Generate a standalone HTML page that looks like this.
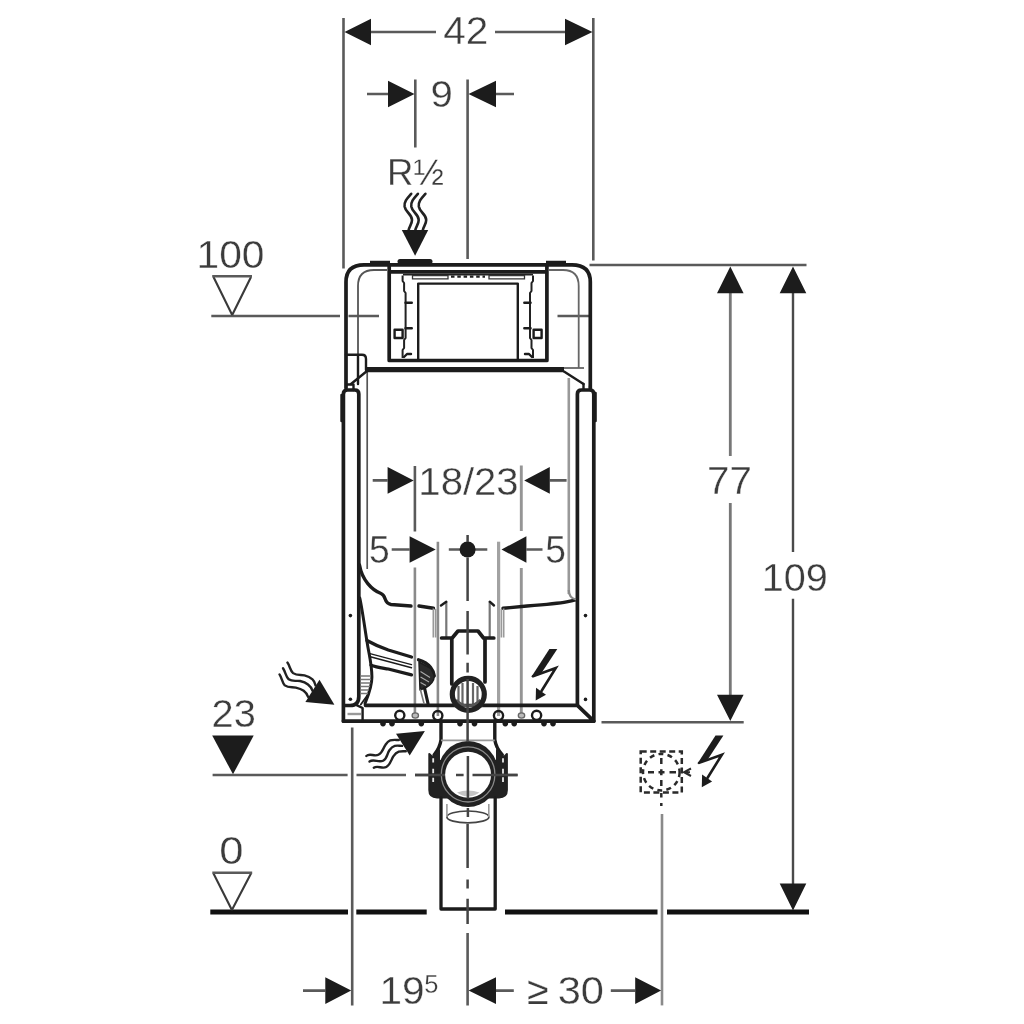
<!DOCTYPE html>
<html><head><meta charset="utf-8"><title>Dimension drawing</title>
<style>
html,body{margin:0;padding:0;background:#fff;}
body{width:1024px;height:1024px;overflow:hidden;}
svg{display:block;filter:blur(0.75px);}
text{font-family:"Liberation Sans",sans-serif;fill:#3c3c3c;stroke:#fff;stroke-width:0.35;}
.d{stroke:#5a5a5a;stroke-width:2.6;fill:none;}
.g{stroke:#8a8a8a;stroke-width:2.6;fill:none;}
.k{stroke:#1c1c1c;stroke-width:3.7;fill:none;stroke-linejoin:round;stroke-linecap:round;}
.k2{stroke:#1c1c1c;stroke-width:2.4;fill:none;stroke-linejoin:round;stroke-linecap:round;}
.t{stroke:#3a3a3a;stroke-width:2.1;fill:none;}
.a{fill:#1c1c1c;stroke:none;}
.f{stroke:#111;stroke-width:5;fill:none;}
</style></head><body>
<svg width="1024" height="1024" viewBox="0 0 1024 1024">
<rect width="1024" height="1024" fill="#fff"/>
<g id="dims">
<!-- top 42 -->
<path class="d" d="M343.5 18V268.5M593.3 18V260.5M371 32H436M495 32H565"/>
<path class="a" d="M344.5 32L371 18.7V45.3ZM592.5 32L565 18.7V45.3Z"/>
<text transform="translate(465.7 44) scale(1.04 1)" font-size="39" text-anchor="middle">42</text>
<!-- 9 -->
<path class="d" d="M367 94H388M415.3 79.5V147.5M467.6 79.5V259M496 94H514"/>
<path class="a" d="M414.5 94L388 80.7V107.3ZM468.5 94L496 80.7V107.3Z"/>
<text transform="translate(441.7 107) scale(1.1 1)" font-size="36.5" text-anchor="middle">9</text>
<text x="415.5" y="185" font-size="36.5" text-anchor="middle" style="stroke-width:0.3">R½</text>
<!-- right -->
<path class="d" d="M589.5 265H806.5M601.5 722.3H743.7"/><path d="M730.3 293V456M730.3 503V695" stroke="#777" stroke-width="2.8" fill="none"/><path d="M793 293V552M793 598.7V884" stroke="#4a4a4a" stroke-width="2.4" fill="none"/>
<path class="a" d="M730.3 266.5L717 293.3H743.6ZM793 266.5L779.7 293.3H806.3ZM730.3 721L717 694.7H743.6ZM793 910.5L779.7 883.4H806.3Z"/>
<text transform="translate(729.5 494.4) scale(1.035 1)" font-size="39" text-anchor="middle">77</text>
<text transform="translate(794.8 591) scale(1.016 1)" font-size="39" text-anchor="middle">109</text>
<!-- floor -->
<path class="f" d="M210.3 912H348M356.3 912H426.7M505 912H657.5M667 912H809"/>
<!-- left levels -->
<text transform="translate(230.5 267.7) scale(1.045 1)" font-size="39" text-anchor="middle">100</text>
<path class="d" d="M211.3 316H340M348.5 316H379M557.5 316H589"/>
<path class="t" d="M232.2 315L213.5 277M232.2 315L251 277"/><path class="d" d="M212.2 276.3H252"/>
<text transform="translate(233.7 727.2) scale(1.02 1)" font-size="39" text-anchor="middle">23</text>
<path class="a" d="M212.2 735.6H253.7L233 774.3Z"/>
<path class="d" d="M212.6 775H347.6M356.5 775H406M415 775H445M456 775H463.6M472.5 775H517.6"/>
<text transform="translate(231.5 864.3) scale(1.12 1)" font-size="39" text-anchor="middle">0</text>
<path class="t" d="M231.9 910L213.5 873.5M231.9 910L251 873.5"/><path class="d" d="M212.3 872.8H252.2"/>
<!-- bottom dims -->
<path class="d" d="M352.2 727.5V1005.4M303 990.6H325.3M496 990.6H513.8M610.8 990.6H635.2M467.6 933V1005.4"/>
<path class="g" d="M662 814V1005.4"/>
<path class="a" d="M351.2 990.6L325.3 977.3V1003.9ZM468.6 990.6L496 977.3V1003.9ZM661.1 990.6L635.2 977.3V1003.9Z"/>
<text transform="translate(402 1004.2) scale(1.04 1)" font-size="39" text-anchor="middle">19</text><text x="424.2" y="992.8" font-size="25.5" style="stroke-width:0.3">5</text>
<text x="527.3" y="1004.2" font-size="39" style="stroke-width:0.2">≥</text><text transform="translate(580.8 1004.2) scale(1.067 1)" font-size="39" text-anchor="middle">30</text>
<!-- middle dims -->
<path class="d" d="M372.7 480.4H387.6M549.8 480.4H566.6M391.7 549.5H409.6M526.4 549.5H542.5M448.8 549.5H460M475 549.5H487.3"/>
<path class="d" d="M414.9 466V531.5"/><path class="g" d="M414.9 567.4V715M437.9 541.7V716"/><path d="M521.3 465.4V531M521.3 568V715" stroke="#959595" stroke-width="2.9" fill="none"/><path d="M498.6 541.7V716" stroke="#a2a2a2" stroke-width="3.2" fill="none"/>
<path class="a" d="M413.7 480.4L387.6 467.1V493.7ZM524.2 480.4L549.8 467.1V493.7ZM435.7 549.5L409.6 536.2V562.8ZM501.5 549.5L526.4 536.2V562.8Z"/>
<circle class="a" cx="467.6" cy="549.5" r="8"/>
<text transform="translate(468.5 494.8) scale(1.028 1)" font-size="39" text-anchor="middle">18/23</text>
<text transform="translate(379.3 563.2) scale(0.955 1)" font-size="39" text-anchor="middle">5</text>
<text transform="translate(555.7 563.2) scale(0.955 1)" font-size="39" text-anchor="middle">5</text>
</g>

<g id="device">
<!-- tank sides (gray) -->
<path d="M367.2 372V569" stroke="#555" stroke-width="1.7" fill="none"/><path d="M568.8 378V594" stroke="#999" stroke-width="2.6" fill="none"/>
<!-- housing outer outline -->
<path class="k" d="M346 388V282Q346 264.8 364 264.8H572Q590.3 264.8 590.3 282V388"/>
<!-- top tabs -->
<path d="M370 263H390M546 263H566" stroke="#1c1c1c" stroke-width="4.5" fill="none"/>
<path d="M400 261.6H430" stroke="#1c1c1c" stroke-width="5" fill="none" stroke-linecap="round"/>
<!-- inner thin parallel lines -->
<path d="M358 354V286Q358 270 374 270H387" stroke="#555" stroke-width="1.8" fill="none"/>
<path d="M578.7 368V286Q578.7 270 563 270H549" stroke="#666" stroke-width="1.8" fill="none"/>
<!-- frame box -->
<path class="k" d="M389.2 264.8V360.5H546.9V264.8M389.2 271.8H546.9"/>
<!-- inner wiggly box -->
<path d="M402.6 275.5V281l1.5 2v8l1.5 2V338l-1.5 2v8l-1.5 2v8M533 275.5V281l-1.5 2v8l-1.5 2V338l1.5 2v8l1.5 2v8" stroke="#222" stroke-width="2" fill="none"/>
<path d="M403 274.6H533" stroke="#222" stroke-width="1.6" fill="none"/>
<path d="M412.5 275.6H448V278.8H412.5ZM489 275.6H524.5V278.8H489Z" stroke="#333" stroke-width="1.3" fill="none"/>
<path d="M451 276.6H485" stroke="#222" stroke-width="2.4" stroke-dasharray="3.5 2.8" fill="none"/>
<!-- panel -->
<path class="k2" d="M418.2 360V283.6H517.8V360"/>
<!-- ticks and squares -->
<path class="k2" d="M405.5 302.8H411.8M405.5 328.2H411.8M524.3 302.8H530.6M524.3 328.2H530.6"/>
<rect x="394.6" y="329.8" width="8" height="8.2" class="k2"/>
<rect x="533.6" y="329.8" width="8" height="8.2" class="k2"/>
<path class="k2" d="M404 357l3 -3h4M532 357l-3 -3h-4" stroke-width="1.6"/>
<!-- thick bar -->
<path d="M367 369.7H564" stroke="#1c1c1c" stroke-width="5.2" fill="none"/>
<path class="k2" d="M367 371L351 384M564 371.5L583.5 384"/>
<path d="M564 368H584" stroke="#666" stroke-width="1.8" fill="none"/>
<!-- left small box -->
<path class="k2" d="M346 354.8H362Q366 354.8 366 359V370M358 355V384M347 384.5H353.5V390"/>
<!-- right small join -->
<path class="k2" d="M583.5 384V389.5M590 386V390"/>
<!-- rails -->
<path class="k" d="M343.4 721V394Q343.4 390 347.5 390H354.8Q358.8 390 358.8 394V696.5Q358.8 705.5 350 705.5H343.4"/>
<path class="k" d="M577.4 705V394Q577.4 390 581.5 390H589.8Q593.8 390 593.8 394V721"/>
<path class="k2" stroke-width="2" d="M341.5 395V421M595.6 393V421"/>
<!-- rail dots -->
<circle class="a" cx="350.4" cy="615.6" r="1.8"/><circle class="a" cx="350.4" cy="699.2" r="1.8"/>
<circle class="a" cx="585.5" cy="615.6" r="1.8"/><circle class="a" cx="585.5" cy="699.4" r="1.8"/>
<!-- bottom frame -->
<path class="k" d="M365.5 705.3H577.4L593.8 721.2H343.4"/>
<path class="k2" d="M355 704.3L362.6 708V721"/>
<path d="M347.5 714H361" stroke="#999" stroke-width="2.4" fill="none"/>
<!-- tank bottom curve -->
<path class="k2" style="stroke-width:3.4" d="M359.5 565C362 580 372 590 381 593.5C387 596 383 603 391 604.5L411 606M419 606L433.5 608.3M503 608.3L527 606C545 604.5 560 603 566.6 601.8C572 600.8 575 600 577 599.5"/>
<path d="M568.8 590Q568.8 598 576 599.5" stroke="#8a8a8a" stroke-width="2.2" fill="none"/>
<!-- hooks -->
<path d="M433.3 608.5V637.5M435.6 609V637.5M501.4 609V637.5M503.7 608.5V637.5" stroke="#999" stroke-width="1.6" fill="none"/>
<path d="M446.3 602V637M489.7 602V637" stroke="#777" stroke-width="2.2" fill="none"/>
<path class="k2" d="M441 605.5L446.3 601.7M489.7 601.7L494 605.5"/>
<!-- flush pipe -->
<path class="k" stroke-width="3" d="M441.6 638H452.2L458 631H478L483.5 638H493.8M451.8 638V684M485 638V682"/>
<circle cx="468.3" cy="694.3" r="14.5" fill="#fff" stroke="none"/>
<path d="M458.5 686V704M462.5 683V707M473 683V707M477.5 686V704" stroke="#666" stroke-width="2.2" fill="none"/><path d="M454 705.3H483" stroke="#333" stroke-width="3.2" fill="none"/><path d="M456 700Q468 712 480.5 700" stroke="#555" stroke-width="2.5" fill="none"/>
<circle cx="468.3" cy="694.3" r="16" fill="none" stroke="#222" stroke-width="5.2"/>
<!-- small circles on bottom frame -->
<g fill="#fff" stroke="#1c1c1c" stroke-width="2.4">
<circle cx="399.8" cy="715.3" r="4.6"/><circle cx="437.8" cy="715.6" r="4.6" fill="none"/><circle cx="498.5" cy="715.6" r="4.6" fill="none"/><circle cx="536.6" cy="715.3" r="4.6"/>
</g>
<g fill="#bbb" stroke="#666" stroke-width="1.3"><ellipse cx="415.3" cy="715.5" rx="3.2" ry="2.6"/><ellipse cx="521.5" cy="715.5" rx="3.2" ry="2.6"/></g>
<!-- feet bumps -->
<g class="a"><circle cx="383" cy="723.6" r="2.8"/><circle cx="392" cy="723.6" r="2.8"/><circle cx="421.3" cy="723.6" r="2.8"/><circle cx="460" cy="723.6" r="2.8"/><circle cx="474.5" cy="723.6" r="2.8"/><circle cx="505.3" cy="723.6" r="2.8"/><circle cx="514.2" cy="723.6" r="2.8"/><circle cx="544" cy="723.6" r="2.8"/><circle cx="553" cy="723.6" r="2.8"/></g>
<!-- elbow -->
<path class="k" style="stroke-width:3.4" d="M441 721V739.8Q440 748 434 755M494.8 721V739.8Q496 748 502.3 755"/>
<path d="M441 740.4H494.8" stroke="#999" stroke-width="1.8" fill="none"/>
<path d="M429.3 754V790Q429.3 797.4 437 797.4H499Q506.9 797.4 506.9 790V754L503.5 757.5L496 750H440L432.8 757.5Z" fill="#222" stroke="#222" stroke-width="2" stroke-linejoin="round"/>
<path d="M440 748.5L468 743L496 748.5V760H440Z" fill="#fff"/>
<path d="M433.2 758.3V762.4M433.2 768.8V773.2M433.2 777.8V782M503 758.3V762.4M503 768.8V773.8M503 777.2V782" stroke="#e8e8e8" stroke-width="1.8" fill="none"/>
<ellipse cx="468.1" cy="774.1" rx="30.6" ry="33" fill="#222"/>
<circle cx="468.1" cy="774.7" r="23" fill="#fff"/>
<ellipse cx="468.1" cy="774.4" rx="26.8" ry="27.6" fill="none" stroke="#8a8a8a" stroke-width="1.3"/>
<path d="M457 792.5Q468 788.5 479.5 792.5Q468 800.5 457 792.5Z" fill="#c4c4c4"/>
<!-- lower pipe -->
<path class="k" style="stroke-width:3.3" d="M441 798V909H495.2V798"/>
<ellipse cx="467.9" cy="816.9" rx="21" ry="5.9" fill="none" stroke="#444" stroke-width="1.7"/>
<path d="M446.9 804V817M488.8 804V817" stroke="#999" stroke-width="1.6" fill="none"/>
<!-- centre line -->
<path d="M467.6 535V542M467.6 557.5V601M467.6 611V654.4M467.6 662.7V672.6M467.6 679V742M467.9 756V798.4M467.9 808V817M467.6 824V868M467.6 879.6V888.5M467.6 898.7V924" stroke="#444" stroke-width="2.5" fill="none"/>
<path d="M456 775H463.6M472.5 775H517.6M415 775H445" stroke="#444" stroke-width="2.5" fill="none"/>
</g>

<g id="symbols">
<!-- top wavy arrow -->
<g stroke="#222" stroke-width="2.6" fill="none" stroke-linecap="round">
<path id="wv" d="M411.2 193.8C407 198.5 404 201.5 404.6 206.5C405.5 212.5 412 214 412 220C412 224.5 409 226.5 408.4 231"/>
<path d="M417.9 193.8C413.7 198.5 410.7 201.5 411.3 206.5C412.2 212.5 418.7 214 418.7 220C418.7 224.5 415.7 226.5 415.1 231"/>
<path d="M425.4 193.8C421.2 198.5 418.2 201.5 418.8 206.5C419.7 212.5 426.2 214 426.2 220C426.2 224.5 423.2 226.5 422.6 231"/>
</g>
<path class="a" d="M401.8 229.9H428.2L415.1 255.7Z"/>
<!-- left wavy arrow -->
<g stroke="#222" stroke-width="2.4" fill="none" stroke-linecap="round">
<path d="M287.4 662.6C290 666 290 670.5 293.1 673.1C297 676 301 674.5 304.5 675.3C309 676.5 311 678 312.5 679.3C314.5 681 315 683.5 315.5 685.4"/>
<path d="M283 668.3C285.6 672 285.6 676.5 288.7 679.3C292.5 682 296.5 680.3 300.1 681C304.5 682 306.5 683.3 308 684.5C310.5 686.5 312 688.5 312.5 690.7"/>
<path d="M279.5 674.4C282 678 282 682.5 284.8 685.4C288.5 688.3 292.3 686.8 295.8 687.6C300 688.5 302 689.5 303.7 690.7C306 692.5 307.5 694.5 308 696.8"/>
</g>
<path class="a" d="M334.4 704.8L319.5 679.7L305.4 702.1Z"/>
<!-- lower wavy arrow -->
<g stroke="#222" stroke-width="2.4" fill="none" stroke-linecap="round">
<path d="M366.3 756C370 752.5 374 757 378.4 754.8C383 752.5 383 748 385.5 744.7C387 742.5 388.5 741 390.2 740.4C393 739.5 396 740 398.8 740"/>
<path d="M369.5 761.5C374 758.5 378.5 763 383.1 760.7C387.5 758.5 387 753.5 389.4 750.2C391 748 392.8 746.5 394.8 745.9C397.5 745.3 399.5 745.9 402 745.9"/>
<path d="M373.8 767.7C378 765 382 769.3 386.3 767C390.5 764.7 391 760 393.3 756.4C395 754 396.8 752.4 398.8 751.7C401.5 751 403.5 751.3 405.8 751.3"/>
</g>
<path class="a" d="M424.9 731L396 733.8L409.7 755.6Z"/>
<!-- lightning bolts -->
<g id="bolt">
<path class="a" d="M549.4 648.9H557.3L541.3 673.2L531.3 677Z"/>
<path d="M533 676.2L555.8 668L541.5 691" stroke="#1c1c1c" stroke-width="2.6" fill="none" stroke-linejoin="miter" stroke-linecap="round"/>
<path class="a" d="M535.7 700.5L536 687.8L546 694.7Z"/>
</g>
<g transform="translate(166.1 86.7)">
<path class="a" d="M549.4 648.9H557.3L541.3 673.2L531.3 677Z"/>
<path d="M533 676.2L555.8 668L541.5 691" stroke="#1c1c1c" stroke-width="2.6" fill="none" stroke-linejoin="miter" stroke-linecap="round"/>
<path class="a" d="M535.7 700.5L536 687.8L546 694.7Z"/>
</g>
<!-- dashed socket box -->
<g stroke="#2a2a2a" fill="none" stroke-width="2.5">
<rect x="640.7" y="751.5" width="41.1" height="41" stroke-dasharray="6 3.5"/>
<circle cx="661.3" cy="772.2" r="18.3" stroke-dasharray="5 4.2"/>
<path d="M648 772.2H654M658.5 772.2H664.5M669.5 772.2H676M661.3 758V764M661.3 769.2V775.2M661.3 780V786M661.3 793V797.5M661.3 803V806"/>
<path d="M691 768.5L684 772.2L691 776M684 772.2H690" stroke-width="2"/>
</g>
<!-- hose -->
<g class="k2">
<path d="M359.8 598C362 608 364.5 626 366.9 641C369 655 371.9 664 371.9 677C371.9 687 368 696 365 703.5" style="stroke-width:3"/><path d="M368 694.5L360.8 704.5" style="stroke-width:1.8"/>
<path d="M366.9 640.5C374 644.5 381 647.5 388.3 650L411.5 657M418.5 659.8C424 661.5 428 664 430.5 667.3C433 670.5 434 673 434.3 676" style="stroke-width:3.3"/>
<path d="M370 653.6L411.5 664.6M370.3 656.8L411.5 667.8" style="stroke-width:1.4"/>
<path d="M371 665.2C377 667.5 383 668 388.3 669L411.5 674.9" style="stroke-width:3.3"/>
<path d="M419 662L431 668.5L434.3 676Q434 683 426 687.5L420 690Z" fill="#2a2a2a" style="stroke-width:1.5"/>
<path d="M424.5 688L428 703.5" style="stroke-width:3.2"/>
<path d="M420.5 690L424 703.5" style="stroke-width:1.6;stroke:#777"/>
</g>
<path d="M420.5 671.5L430 677.5M420.5 677L429 682M420.5 682.5L426 685.5" stroke="#aaa" stroke-width="1.1" fill="none"/>
<path d="M360.5 676H371M360.5 679.5H371M360.5 683H370.5M360.5 686.5H370M360.5 690H369M360.5 693.5H368" stroke="#777" stroke-width="1.5" fill="none"/>
</g>
</svg>
</body></html>
